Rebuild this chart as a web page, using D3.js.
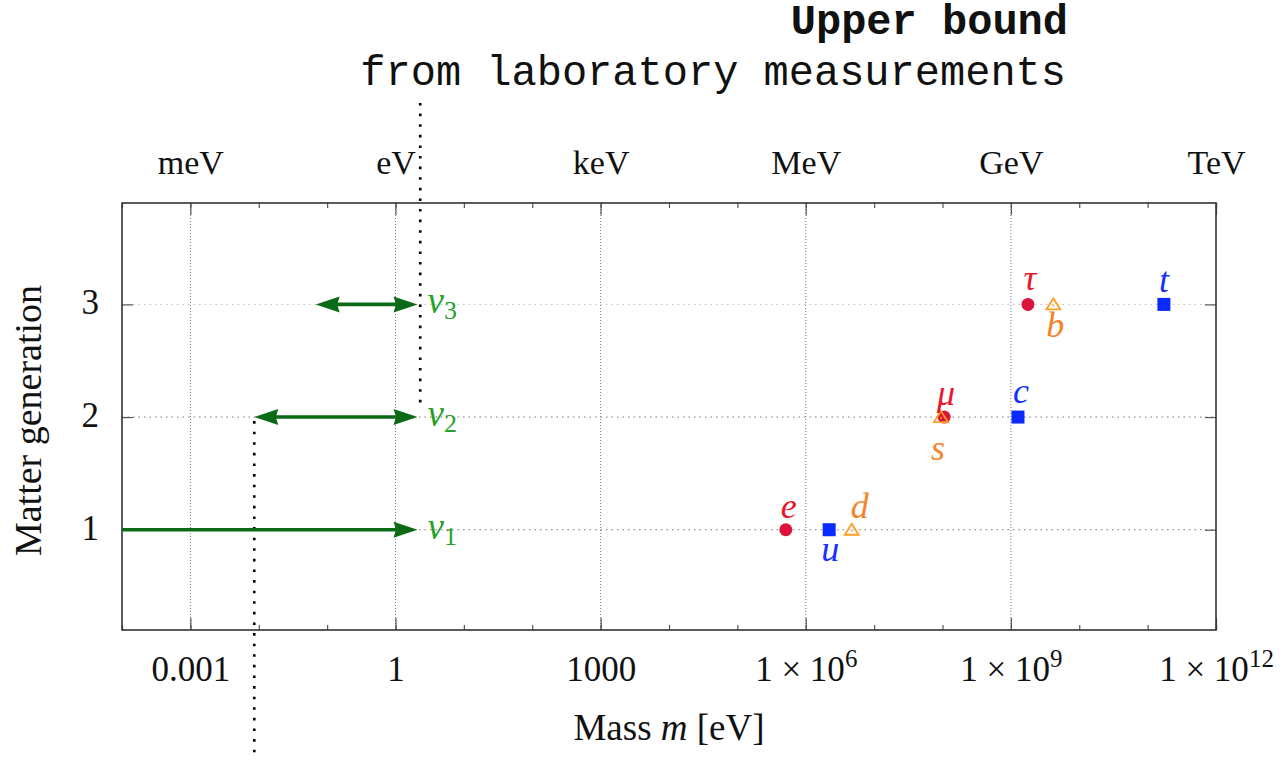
<!DOCTYPE html>
<html>
<head>
<meta charset="utf-8">
<script src="https://cdn.jsdelivr.net/npm/d3@7"></script>
<style>
  body { margin: 0; background: #fff; }
  text { font-family: "Liberation Serif", "DejaVu Serif", serif; }
  text.mono { font-family: "Courier New", "Liberation Mono", monospace; }
</style>
</head>
<body>
<svg id="chart" width="1288" height="760"></svg>
<script>
// ---- Data: particle masses in eV, by generation ----
const leptonNames = ["e", "μ", "τ"];
const leptonMass  = [0.511e6, 105.7e6, 1777e6];
const leptonGen   = [1, 2, 3];

const upNames = ["u", "c", "t"];
const upMass  = [2.2e6, 1.27e9, 173e9];
const upGen   = [1, 2, 3];

const downNames = ["d", "s", "b"];
const downMass  = [4.7e6, 95e6, 4.18e9];
const downGen   = [1, 2, 3];

// Neutrinos: allowed mass ranges (eV)
const nuIndex = ["1", "2", "3"];
const nuGen   = [1, 2, 3];
const nuMin   = [1e-4, 0.0086, 0.068];
const nuMax   = [2.1, 2.1, 2.1];
const nuOpenBelow = [true, false, false];

// Bounds drawn as dotted verticals (eV)
const labUpperBound = 2.3;
const oscLowerBound = 0.0086;

// Axis ticks
const majorTicks  = [1e-3, 1, 1e3, 1e6, 1e9, 1e12];
const majorLabels = ["0.001", "1", "1000", "1 × 10|6", "1 × 10|9", "1 × 10|12"];
const unitLabels  = ["meV", "eV", "keV", "MeV", "GeV", "TeV"];
const decadeTicks = d3.range(-4, 13).map(p => Math.pow(10, p));
const genTicks    = [1, 2, 3];

// ---- Layout ----
const svg = d3.select("#chart");
const L = 122, R = 1216, T = 203, B = 630;

const x = d3.scaleLog().domain([1e-4, 1e12]).range([L, R]);
const y = d3.scaleLinear().domain([0.11, 3.9]).range([B, T]);

const colors = {
  lepton: "#dc143c", leptonText: "#e8182c",
  up: "#0a2aff", upText: "#1530ff",
  down: "#ffa024", downText: "#f5832a",
  arrow: "#0b6a15", nuText: "#25a028",
  grid: "#777", gridLight: "#bbb", axis: "#333", tick: "#555"
};

// ---- Grid ----
const grid = svg.append("g");
grid.selectAll("line.vg").data(majorTicks.slice(0, -1)).join("line")
  .attr("x1", d => x(d)).attr("x2", d => x(d))
  .attr("y1", T).attr("y2", B)
  .attr("stroke", colors.grid).attr("stroke-width", 1)
  .attr("stroke-dasharray", "1,2");
grid.selectAll("line.hg").data(genTicks).join("line")
  .attr("x1", L).attr("x2", R)
  .attr("y1", d => y(d)).attr("y2", d => y(d))
  .attr("stroke", d => d === 3 ? colors.gridLight : colors.grid)
  .attr("stroke-width", 1)
  .attr("stroke-dasharray", "1.5,4");

// ---- Axes ----
function styleAxis(g) {
  g.select(".domain").remove();
  g.selectAll(".tick line").attr("stroke", colors.tick).attr("stroke-width", 1.2);
  g.selectAll("text").attr("fill", "#111");
}

// bottom: major labelled ticks + decade minor ticks
const bottomAxis = svg.append("g").attr("transform", `translate(0,${B})`)
  .call(d3.axisBottom(x).tickValues(majorTicks).tickSizeInner(-12).tickSizeOuter(0)
    .tickPadding(26).tickFormat((d, i) => majorLabels[i]))
  .call(styleAxis);
bottomAxis.selectAll("text").attr("font-size", 35).attr("dy", "0.7em")
  .each(function (d, i) {
    const parts = majorLabels[i].split("|");
    if (parts.length === 2) {
      const t = d3.select(this).text(null);
      t.append("tspan").text(parts[0]);
      t.append("tspan").attr("font-size", 25).attr("dy", -14).text(parts[1]);
    }
  });
svg.append("g").attr("transform", `translate(0,${B})`)
  .call(d3.axisBottom(x).tickValues(decadeTicks).tickSizeInner(-5).tickSizeOuter(0).tickFormat(""))
  .call(styleAxis);

// top: unit names + ticks
const topAxis = svg.append("g").attr("transform", `translate(0,${T})`)
  .call(d3.axisTop(x).tickValues(majorTicks).tickSizeInner(-12).tickSizeOuter(0)
    .tickPadding(29).tickFormat((d, i) => unitLabels[i]))
  .call(styleAxis);
topAxis.selectAll("text").attr("font-size", 34);
svg.append("g").attr("transform", `translate(0,${T})`)
  .call(d3.axisTop(x).tickValues(decadeTicks).tickSizeInner(-5).tickSizeOuter(0).tickFormat(""))
  .call(styleAxis);

// left / right: generation
const leftAxis = svg.append("g").attr("transform", `translate(${L},0)`)
  .call(d3.axisLeft(y).tickValues(genTicks).tickSizeInner(-11).tickSizeOuter(0)
    .tickPadding(23).tickFormat(d3.format("d")))
  .call(styleAxis);
leftAxis.selectAll("text").attr("font-size", 35).attr("dy", "0.27em");
svg.append("g").attr("transform", `translate(${R},0)`)
  .call(d3.axisRight(y).tickValues(genTicks).tickSizeInner(-11).tickSizeOuter(0).tickFormat(""))
  .call(styleAxis);

// frame
svg.append("rect").attr("x", L).attr("y", T).attr("width", R - L).attr("height", B - T)
  .attr("fill", "none").attr("stroke", colors.axis).attr("stroke-width", 1.6);

// ---- Axis titles ----
const xTitle = svg.append("text").attr("x", (L + R) / 2).attr("y", 740)
  .attr("text-anchor", "middle").attr("font-size", 37).attr("fill", "#111");
xTitle.append("tspan").text("Mass ");
xTitle.append("tspan").attr("font-style", "italic").text("m");
xTitle.append("tspan").text(" [eV]");

svg.append("text")
  .attr("transform", `translate(41,${(T + B) / 2 + 4}) rotate(-90)`)
  .attr("text-anchor", "middle").attr("font-size", 38).attr("fill", "#111")
  .text("Matter generation");

// ---- Title ----
svg.append("text").attr("class", "mono").attr("x", 1068).attr("y", 34).attr("text-anchor", "end")
  .attr("font-weight", "bold").attr("font-size", 42).attr("fill", "#111")
  .text("Upper bound");
svg.append("text").attr("class", "mono").attr("x", 1066).attr("y", 85).attr("text-anchor", "end")
  .attr("font-size", 42).attr("fill", "#111")
  .text("from laboratory measurements");

// ---- Bound lines ----
svg.append("line")
  .attr("x1", x(labUpperBound)).attr("x2", x(labUpperBound))
  .attr("y1", 103).attr("y2", y(2) - 14)
  .attr("stroke", "#000").attr("stroke-width", 2.6).attr("stroke-dasharray", "2.6,8");
svg.append("line")
  .attr("x1", x(oscLowerBound)).attr("x2", x(oscLowerBound))
  .attr("y1", y(2) + 4).attr("y2", 760)
  .attr("stroke", "#000").attr("stroke-width", 2.6).attr("stroke-dasharray", "2.6,8");

// ---- Neutrino arrows ----
const headLen = 24, headHalf = 8, notch = 2.5;
function head(tipX, yy, dir) {
  // dir = +1 points right, -1 points left
  const bx = tipX - dir * headLen;
  return `M${tipX},${yy} L${bx},${yy - headHalf} L${bx + dir * notch},${yy} L${bx},${yy + headHalf} Z`;
}
const arrows = svg.append("g");
nuGen.forEach((g, i) => {
  const yy = y(g);
  const x0 = x(nuMin[i]), x1 = x(nuMax[i]);
  arrows.append("line")
    .attr("x1", nuOpenBelow[i] ? x0 : x0 + headLen - 4).attr("x2", x1 - headLen + 4)
    .attr("y1", yy).attr("y2", yy)
    .attr("stroke", colors.arrow).attr("stroke-width", 3.6);
  arrows.append("path").attr("d", head(x1, yy, 1)).attr("fill", colors.arrow);
  if (!nuOpenBelow[i]) arrows.append("path").attr("d", head(x0, yy, -1)).attr("fill", colors.arrow);
  const lab = arrows.append("text").attr("x", x1 + 10).attr("y", yy + 9)
    .attr("fill", colors.nuText).attr("font-size", 37);
  lab.append("tspan").attr("font-style", "italic").text("ν");
  lab.append("tspan").attr("font-size", 26).attr("dy", 6).text(nuIndex[i]);
});

// ---- Particle markers ----
const marks = svg.append("g");
marks.selectAll("circle").data(leptonMass).join("circle")
  .attr("cx", d => x(d)).attr("cy", (d, i) => y(leptonGen[i])).attr("r", 6.5)
  .attr("fill", colors.lepton);
marks.selectAll("rect").data(upMass).join("rect")
  .attr("x", d => x(d) - 6.5).attr("y", (d, i) => y(upGen[i]) - 6.5)
  .attr("width", 13).attr("height", 13).attr("fill", colors.up);
const tri = marks.selectAll("g.tri").data(downMass).join("g")
  .attr("transform", (d, i) => `translate(${x(d)},${y(downGen[i])})`);
tri.append("path").attr("d", "M0,-6 L-7,5 L7,5 Z")
  .attr("fill", "none").attr("stroke", colors.down).attr("stroke-width", 1.8)
  .attr("stroke-linejoin", "miter");
tri.append("circle").attr("r", 1).attr("cy", 1).attr("fill", colors.down);

// label placement (pixel offsets from each marker)
const labelOffset = {
  e: [3, -12], "μ": [2, -12], "τ": [2, -14],
  u: [1, 31], c: [3, -14], t: [0, -12],
  d: [8, -12], s: [-3, 43], b: [2, 33]
};
function addLabels(names, masses, gens, color) {
  marks.selectAll(null).data(names).join("text")
    .attr("x", (d, i) => x(masses[i]) + labelOffset[d][0])
    .attr("y", (d, i) => y(gens[i]) + labelOffset[d][1])
    .attr("text-anchor", "middle").attr("font-style", "italic")
    .attr("font-size", 36).attr("fill", color)
    .text(d => d);
}
addLabels(leptonNames, leptonMass, leptonGen, colors.leptonText);
addLabels(upNames, upMass, upGen, colors.upText);
addLabels(downNames, downMass, downGen, colors.downText);
</script>
</body>
</html>
